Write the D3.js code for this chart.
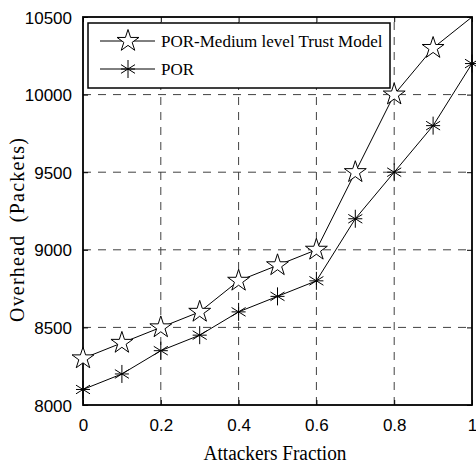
<!DOCTYPE html>
<html>
<head>
<meta charset="utf-8">
<script src="https://cdn.jsdelivr.net/npm/d3@7/dist/d3.min.js"></script>
<style>
  html, body { margin: 0; padding: 0; background: #fff; }
  svg { display: block; }
</style>
</head>
<body>
<svg id="chart" width="476" height="464"></svg>
<script>
// ---- data ----
const fractions = [0, 0.1, 0.2, 0.3, 0.4, 0.5, 0.6, 0.7, 0.8, 0.9, 1.0];
const trustModel = [8300, 8400, 8500, 8600, 8800, 8900, 9000, 9500, 10000, 10300, 10500];
const por = [8100, 8200, 8350, 8450, 8600, 8700, 8800, 9200, 9500, 9800, 10200];
const xTickValues = [0, 0.2, 0.4, 0.6, 0.8, 1];
const xTickLabels = ["0", "0.2", "0.4", "0.6", "0.8", "1"];
const yTickValues = [8000, 8500, 9000, 9500, 10000, 10500];
const yTickLabels = ["8000", "8500", "9000", "9500", "10000", "10500"];
const seriesNames = ["POR-Medium level Trust Model", "POR"];
const xTitle = "Attackers Fraction";
const yTitle = "Overhead  (Packets)";

// ---- layout ----
const L = 83, R = 472, T = 17, B = 405;
const svg = d3.select("#chart");
const x = d3.scaleLinear().domain([0, 1]).range([L, R]);
const y = d3.scaleLinear().domain([8000, 10500]).range([B, T]);

// grid
const grid = svg.append("g").attr("stroke", "#404040").attr("stroke-width", 1)
  .attr("stroke-dasharray", "8,7").attr("fill", "none");
xTickValues.filter(v => v > 0 && v < 1).forEach(v => {
  grid.append("line").attr("x1", x(v)).attr("x2", x(v)).attr("y1", B).attr("y2", T);
});
yTickValues.filter(v => v > 8000 && v < 10500).forEach(v => {
  grid.append("line").attr("x1", L).attr("x2", R).attr("y1", y(v)).attr("y2", y(v));
});

// axes with inward ticks
const tickFont = "'Liberation Sans', Arial, sans-serif";
const axB = svg.append("g").attr("transform", `translate(0,${B})`)
  .call(d3.axisBottom(x).tickValues(xTickValues).tickFormat((d, i) => xTickLabels[i])
    .tickSizeInner(-5).tickSizeOuter(0).tickPadding(14));
const axT = svg.append("g").attr("transform", `translate(0,${T})`)
  .call(d3.axisTop(x).tickValues(xTickValues).tickFormat("").tickSizeInner(-5).tickSizeOuter(0));
const axLft = svg.append("g").attr("transform", `translate(${L},0)`)
  .call(d3.axisLeft(y).tickValues(yTickValues).tickFormat((d, i) => yTickLabels[i])
    .tickSizeInner(-5).tickSizeOuter(0).tickPadding(11));
const axRgt = svg.append("g").attr("transform", `translate(${R},0)`)
  .call(d3.axisRight(y).tickValues(yTickValues).tickFormat("").tickSizeInner(-5).tickSizeOuter(0));
[axB, axT, axLft, axRgt].forEach(g => {
  g.select(".domain").remove();
  g.selectAll(".tick line").attr("stroke", "#000").attr("stroke-width", 1);
  g.selectAll("text").attr("font-family", tickFont).attr("font-size", 17).attr("fill", "#000");
});
axLft.selectAll("text").attr("dy", "0.36em");

// frame
svg.append("rect").attr("x", L).attr("y", T).attr("width", R - L).attr("height", B - T)
  .attr("fill", "none").attr("stroke", "#000").attr("stroke-width", 1.8);

// marker shapes
function starPath(cx, cy, Ro) {
  const Ri = Ro * 0.382;
  const pts = [];
  for (let k = 0; k < 10; k++) {
    const a = -Math.PI / 2 + k * Math.PI / 5;
    const r = k % 2 === 0 ? Ro : Ri;
    pts.push([cx + r * Math.cos(a), cy + r * Math.sin(a)]);
  }
  return "M" + pts.map(p => p[0].toFixed(2) + "," + p[1].toFixed(2)).join("L") + "Z";
}
function asteriskPath(cx, cy, r) {
  const d = r * 0.78;
  return `M${cx},${cy - r}L${cx},${cy + r}` +
         `M${cx - d},${cy - d * 0.62}L${cx + d},${cy + d * 0.62}` +
         `M${cx - d},${cy + d * 0.62}L${cx + d},${cy - d * 0.62}` +
         `M${cx - d},${cy}L${cx + d},${cy}`;
}

// lines
const line = d3.line().x(d => x(d[0])).y(d => y(d[1]));
const s1 = fractions.map((f, i) => [f, trustModel[i]]);
const s2 = fractions.map((f, i) => [f, por[i]]);
svg.append("path").attr("d", line(s2)).attr("fill", "none").attr("stroke", "#000").attr("stroke-width", 1);
svg.append("path").attr("d", line(s1)).attr("fill", "none").attr("stroke", "#000").attr("stroke-width", 1);

// markers
svg.append("g").selectAll("path").data(s2).join("path")
  .attr("d", d => asteriskPath(x(d[0]), y(d[1]), 9))
  .attr("fill", "none").attr("stroke", "#000").attr("stroke-width", 1);
svg.append("g").selectAll("path").data(s1.filter(d => d[1] < 10500)).join("path")
  .attr("d", d => starPath(x(d[0]), y(d[1]), 11.5))
  .attr("fill", "#fff").attr("stroke", "#000").attr("stroke-width", 1);

// legend
const serif = "'Liberation Serif', 'Times New Roman', serif";
const lg = svg.append("g");
lg.append("rect").attr("x", 88).attr("y", 23).attr("width", 302).attr("height", 65)
  .attr("fill", "#fff").attr("stroke", "#000").attr("stroke-width", 1.5);
const legRows = [{ y: 41, name: seriesNames[0], m: "star" }, { y: 69, name: seriesNames[1], m: "ast" }];
legRows.forEach(r => {
  lg.append("line").attr("x1", 100).attr("x2", 155).attr("y1", r.y).attr("y2", r.y)
    .attr("stroke", "#000").attr("stroke-width", 1);
  lg.append("path").attr("d", r.m === "star" ? starPath(128, r.y, 11.5) : asteriskPath(128, r.y, 9))
    .attr("fill", r.m === "star" ? "#fff" : "none").attr("stroke", "#000").attr("stroke-width", 1);
  lg.append("text").attr("x", 161).attr("y", r.y + 6).attr("font-family", serif)
    .attr("font-size", 17).attr("fill", "#000").text(r.name);
});

// axis titles
svg.append("text").attr("x", 275).attr("y", 460).attr("text-anchor", "middle")
  .attr("font-family", serif).attr("font-size", 20).attr("fill", "#000")
  .attr("textLength", 143).attr("lengthAdjust", "spacingAndGlyphs").text(xTitle);
svg.append("text").attr("transform", "translate(24,230) rotate(-90)").attr("text-anchor", "middle")
  .attr("font-family", serif).attr("font-size", 20).attr("fill", "#000")
  .attr("xml:space", "preserve").style("white-space", "pre")
  .attr("textLength", 184).attr("lengthAdjust", "spacing").text(yTitle);
</script>
</body>
</html>
